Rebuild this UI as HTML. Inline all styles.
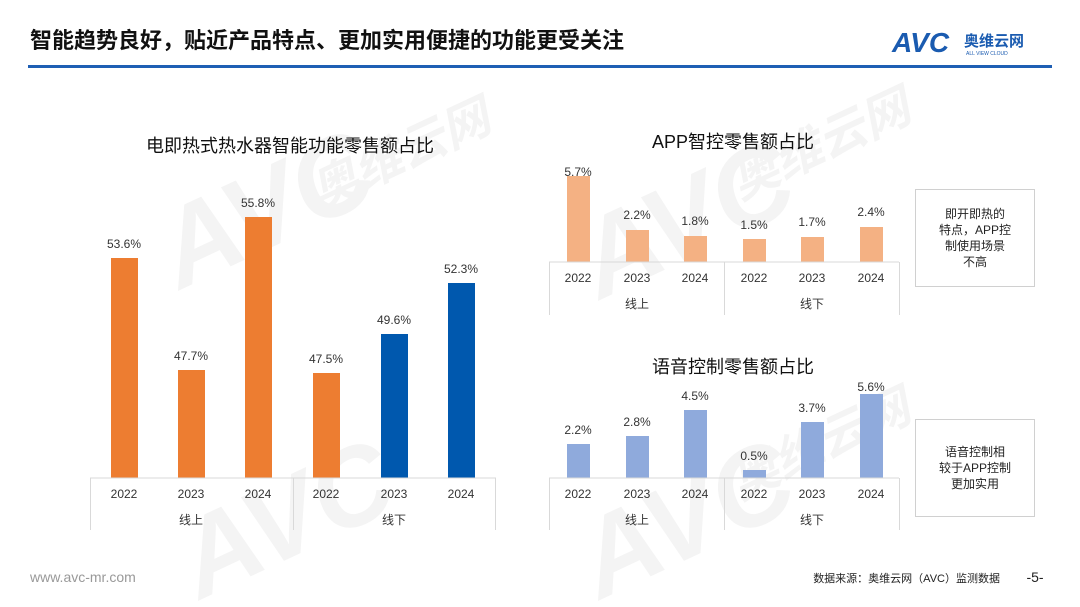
<!DOCTYPE html>
<html><head><meta charset="utf-8"><style>
body{margin:0;background:#fff}
svg{display:block;font-family:"Liberation Sans","Noto Sans CJK SC",sans-serif}
</style></head><body>
<svg width="1080" height="607" viewBox="0 0 1080 607" xmlns="http://www.w3.org/2000/svg">
<rect width="1080" height="607" fill="#fff"/>
<g fill="#000" opacity="0.045" font-weight="bold" font-style="italic">
<text x="180" y="290" font-size="110" transform="rotate(-25 180 290)">AVC</text>
<text x="320" y="210" font-size="48" transform="rotate(-25 320 210)">奥维云网</text>
<text x="200" y="600" font-size="110" transform="rotate(-25 200 600)">AVC</text>
<text x="600" y="300" font-size="110" transform="rotate(-25 600 300)">AVC</text>
<text x="740" y="200" font-size="48" transform="rotate(-25 740 200)">奥维云网</text>
<text x="600" y="600" font-size="110" transform="rotate(-25 600 600)">AVC</text>
<text x="740" y="500" font-size="48" transform="rotate(-25 740 500)">奥维云网</text>
</g>
<text x="30" y="48" font-size="22" font-weight="bold" fill="#111">智能趋势良好，贴近产品特点、更加实用便捷的功能更受关注</text>
<text x="892" y="52" font-size="28" font-weight="bold" font-style="italic" fill="#1a5bb0">AVC</text>
<text x="964" y="46" font-size="15" font-weight="bold" fill="#1a5bb0">奥维云网</text>
<text x="966" y="55" font-size="5" fill="#1a5bb0">ALL VIEW CLOUD</text>
<rect x="28" y="65" width="1024" height="3" fill="#1e5fb4"/>
<text x="290" y="152" font-size="18" text-anchor="middle" fill="#111">电即热式热水器智能功能零售额占比</text>
<g fill="#ED7D31">
<rect x="111" y="258" width="27" height="220"/>
<rect x="178" y="370" width="27" height="108"/>
<rect x="245" y="217" width="27" height="261"/>
<rect x="313" y="373" width="27" height="105"/>
</g>
<g fill="#0058AE">
<rect x="381" y="334" width="27" height="144"/>
<rect x="448" y="283" width="27" height="195"/>
</g>
<g font-size="12" fill="#333" text-anchor="middle">
<text x="124" y="248">53.6%</text><text x="191" y="360">47.7%</text><text x="258" y="207">55.8%</text>
<text x="326" y="363">47.5%</text><text x="394" y="324">49.6%</text><text x="461" y="273">52.3%</text>
<text x="124" y="498">2022</text><text x="191" y="498">2023</text><text x="258" y="498">2024</text>
<text x="326" y="498">2022</text><text x="394" y="498">2023</text><text x="461" y="498">2024</text>
<text x="191" y="524">线上</text><text x="394" y="524">线下</text>
</g>
<path d="M90 478H496M90.5 478V530M293.5 478V530M495.5 478V530" stroke="#d9d9d9" fill="none"/>
<text x="733" y="148" font-size="18" text-anchor="middle" fill="#111">APP智控零售额占比</text>
<g fill="#F4B183">
<rect x="567" y="176" width="23" height="86"/><rect x="626" y="230" width="23" height="32"/>
<rect x="684" y="236" width="23" height="26"/><rect x="743" y="239" width="23" height="23"/>
<rect x="801" y="237" width="23" height="25"/><rect x="860" y="227" width="23" height="35"/>
</g>
<g font-size="12" fill="#333" text-anchor="middle">
<text x="578" y="176">5.7%</text><text x="637" y="219">2.2%</text><text x="695" y="225">1.8%</text>
<text x="754" y="229">1.5%</text><text x="812" y="226">1.7%</text><text x="871" y="216">2.4%</text>
<text x="578" y="282">2022</text><text x="637" y="282">2023</text><text x="695" y="282">2024</text>
<text x="754" y="282">2022</text><text x="812" y="282">2023</text><text x="871" y="282">2024</text>
<text x="637" y="308">线上</text><text x="812" y="308">线下</text>
</g>
<path d="M549 262H899M549.5 262V315M724.5 262V315M899.5 262V315" stroke="#d9d9d9" fill="none"/>
<text x="733" y="373" font-size="18" text-anchor="middle" fill="#111">语音控制零售额占比</text>
<g fill="#8FAADC">
<rect x="567" y="444" width="23" height="34"/><rect x="626" y="436" width="23" height="42"/>
<rect x="684" y="410" width="23" height="68"/><rect x="743" y="470" width="23" height="8"/>
<rect x="801" y="422" width="23" height="56"/><rect x="860" y="394" width="23" height="84"/>
</g>
<g font-size="12" fill="#333" text-anchor="middle">
<text x="578" y="434">2.2%</text><text x="637" y="426">2.8%</text><text x="695" y="400">4.5%</text>
<text x="754" y="460">0.5%</text><text x="812" y="412">3.7%</text><text x="871" y="391">5.6%</text>
<text x="578" y="498">2022</text><text x="637" y="498">2023</text><text x="695" y="498">2024</text>
<text x="754" y="498">2022</text><text x="812" y="498">2023</text><text x="871" y="498">2024</text>
<text x="637" y="524">线上</text><text x="812" y="524">线下</text>
</g>
<path d="M549 478H899M549.5 478V530M724.5 478V530M899.5 478V530" stroke="#d9d9d9" fill="none"/>
<rect x="915.5" y="189.5" width="119" height="97" fill="#fff" stroke="#d0d0d0"/>
<g font-size="12" fill="#222" text-anchor="middle">
<text x="975" y="218">即开即热的</text><text x="975" y="234">特点，APP控</text>
<text x="975" y="250">制使用场景</text><text x="975" y="266">不高</text>
</g>
<rect x="915.5" y="419.5" width="119" height="97" fill="#fff" stroke="#d0d0d0"/>
<g font-size="12" fill="#222" text-anchor="middle">
<text x="975" y="456">语音控制相</text><text x="975" y="472">较于APP控制</text><text x="975" y="488">更加实用</text>
</g>
<text x="30" y="582" font-size="14" fill="#999">www.avc-mr.com</text>
<text x="1000" y="582" font-size="11" fill="#222" text-anchor="end">数据来源：奥维云网（AVC）监测数据</text>
<text x="1035" y="582" font-size="14" fill="#222" text-anchor="middle">-5-</text>
</svg>
</body></html>
